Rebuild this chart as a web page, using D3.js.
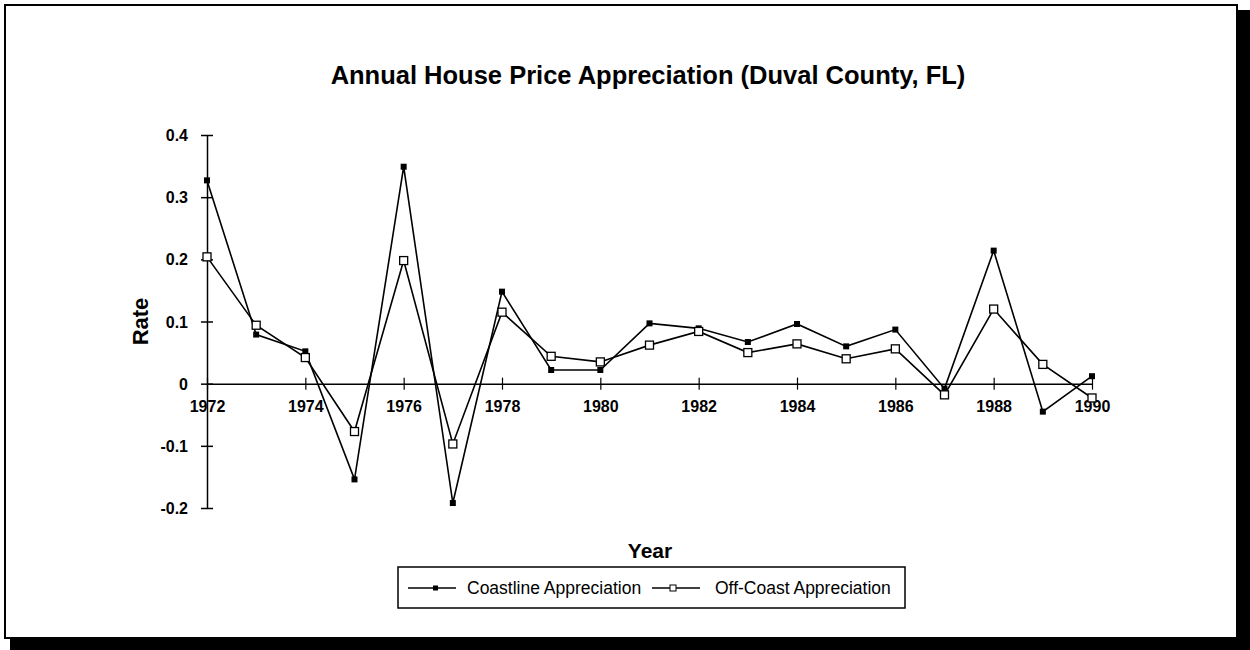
<!DOCTYPE html>
<html>
<head>
<meta charset="utf-8">
<script src="https://cdn.jsdelivr.net/npm/d3@7"></script>
<style>
  body { margin: 0; background: #fff; }
  text { font-family: "Liberation Sans", Arial, sans-serif; }
</style>
</head>
<body>
<div id="chart"></div>
<script>
// data
const years = [1972, 1973, 1974, 1975, 1976, 1977, 1978, 1979, 1980, 1981,
  1982, 1983, 1984, 1985, 1986, 1987, 1988, 1989, 1990];
const coastline = [0.327, 0.079, 0.052, -0.154, 0.349, -0.192, 0.148, 0.022, 0.022, 0.097,
  0.089, 0.067, 0.096, 0.060, 0.087, -0.008, 0.214, -0.045, 0.012];
const offCoast = [0.204, 0.094, 0.042, -0.077, 0.198, -0.097, 0.115, 0.044, 0.035, 0.062,
  0.084, 0.050, 0.064, 0.040, 0.056, -0.018, 0.120, 0.031, -0.023];
const yearTicks = [1972, 1974, 1976, 1978, 1980, 1982, 1984, 1986, 1988, 1990];
const rateTicks = [-0.2, -0.1, 0, 0.1, 0.2, 0.3, 0.4];
const seriesNames = ["Coastline Appreciation", "Off-Coast Appreciation"];

const width = 1250, height = 650;

const svg = d3.select("#chart").append("svg")
  .attr("width", width)
  .attr("height", height);

// frame with a heavy shadow on the right and bottom
svg.append("rect").attr("x", 5).attr("y", 5).attr("width", 1232).attr("height", 633)
  .attr("fill", "#fff").attr("stroke", "#000").attr("stroke-width", 2);
svg.append("rect").attr("x", 1237).attr("y", 10).attr("width", 13).attr("height", 640).attr("fill", "#000");
svg.append("rect").attr("x", 10).attr("y", 638).attr("width", 1240).attr("height", 12).attr("fill", "#000");

const x = d3.scaleLinear().domain([1972, 1990]).range([207, 1092]);
const y = d3.scaleLinear().domain([-0.2, 0.4]).range([508, 135]);

// title
svg.append("text")
  .attr("x", 648).attr("y", 84)
  .attr("text-anchor", "middle")
  .attr("font-size", 25.5).attr("font-weight", "bold")
  .text("Annual House Price Appreciation (Duval County, FL)");

// y axis (plain hyphen for negatives, like the original)
const yAxis = svg.append("g")
  .attr("transform", `translate(${x(1972)},0)`)
  .call(d3.axisLeft(y).tickValues(rateTicks).tickSize(6).tickSizeOuter(0)
    .tickFormat(d => d === 0 ? "0" : (d < 0 ? "-" : "") + Math.abs(d).toFixed(1)));
yAxis.select(".domain").attr("stroke-width", 1.5);
yAxis.selectAll(".tick line").attr("x1", 6).attr("x2", -6).attr("stroke-width", 1.5);
yAxis.selectAll(".tick text")
  .attr("x", -19).attr("dy", "0.35em")
  .attr("font-size", 16).attr("font-weight", "bold")
  .attr("font-family", "Liberation Sans, Arial, sans-serif");

// x axis through zero
const xAxis = svg.append("g")
  .attr("transform", `translate(0,${y(0)})`)
  .call(d3.axisBottom(x).tickValues(yearTicks).tickSize(6).tickSizeOuter(0)
    .tickFormat(d3.format("d")));
xAxis.select(".domain").attr("stroke-width", 1.5);
xAxis.selectAll(".tick line").attr("y1", -6).attr("y2", 6).attr("stroke-width", 1.2);
xAxis.selectAll(".tick text")
  .attr("y", 17).attr("dy", "0.71em")
  .attr("font-size", 16).attr("font-weight", "bold")
  .attr("font-family", "Liberation Sans, Arial, sans-serif");

// axis titles
svg.append("text")
  .attr("transform", `translate(148,${y(0.1)}) rotate(-90)`)
  .attr("text-anchor", "middle")
  .attr("font-size", 22).attr("font-weight", "bold")
  .text("Rate");
svg.append("text")
  .attr("x", 650).attr("y", 558)
  .attr("text-anchor", "middle")
  .attr("font-size", 21).attr("font-weight", "bold")
  .text("Year");

// series
const line = d3.line().x((d, i) => x(years[i])).y(d => y(d));

svg.append("path").datum(offCoast)
  .attr("fill", "none").attr("stroke", "#000").attr("stroke-width", 1.6)
  .attr("d", line);
svg.append("path").datum(coastline)
  .attr("fill", "none").attr("stroke", "#000").attr("stroke-width", 1.6)
  .attr("d", line);

svg.append("g").selectAll("rect")
  .data(coastline)
  .join("rect")
  .attr("x", (d, i) => x(years[i]) - 3)
  .attr("y", d => y(d) - 3)
  .attr("width", 6).attr("height", 6)
  .attr("fill", "#000");

svg.append("g").selectAll("rect")
  .data(offCoast)
  .join("rect")
  .attr("x", (d, i) => x(years[i]) - 4)
  .attr("y", d => y(d) - 4)
  .attr("width", 8).attr("height", 8)
  .attr("fill", "#fff").attr("stroke", "#000").attr("stroke-width", 1.3);

// legend
const legend = svg.append("g");
legend.append("rect")
  .attr("x", 398).attr("y", 567).attr("width", 507).attr("height", 41)
  .attr("fill", "#fff").attr("stroke", "#000").attr("stroke-width", 1.5);

const legendX = [408, 652];
seriesNames.forEach((name, i) => {
  const g = legend.append("g").attr("transform", `translate(${legendX[i]},588)`);
  g.append("line").attr("x1", 0).attr("x2", 48).attr("y1", 0).attr("y2", 0)
    .attr("stroke", "#000").attr("stroke-width", 1.3);
  if (i === 0) {
    g.append("rect").attr("x", 25).attr("y", -2.5).attr("width", 5).attr("height", 5).attr("fill", "#000");
  } else {
    g.append("rect").attr("x", 18).attr("y", -3).attr("width", 6).attr("height", 6)
      .attr("fill", "#fff").attr("stroke", "#000").attr("stroke-width", 1);
  }
  g.append("text")
    .attr("x", 59 + i * 4).attr("y", 0).attr("dy", "0.35em")
    .attr("font-size", 17.5)
    .text(name);
});
</script>
</body>
</html>
